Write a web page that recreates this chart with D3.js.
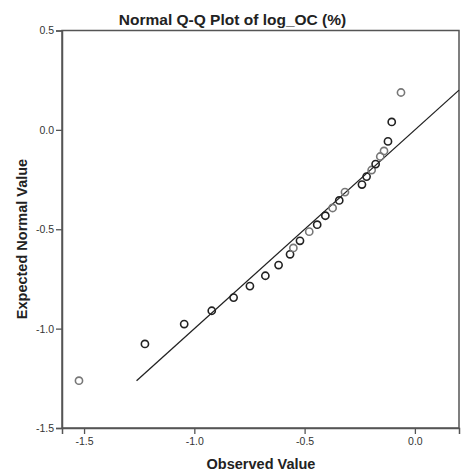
<!DOCTYPE html>
<html>
<head>
<meta charset="utf-8">
<script src="https://cdn.jsdelivr.net/npm/d3@7"></script>
<style>
html,body{margin:0;padding:0;background:#fff;}
svg{display:block;font-family:"Liberation Sans",Arial,sans-serif;}
</style>
</head>
<body>
<svg id="chart" width="476" height="475"></svg>
<script>
const title = "Normal Q-Q Plot of log_OC (%)";
const xLabel = "Observed Value";
const yLabel = "Expected Normal Value";
const xTicks = [-1.5, -1.0, -0.5, 0.0];
const yTicks = [0.5, 0.0, -0.5, -1.0, -1.5];
const observed = [-1.523,-1.224,-1.046,-0.921,-0.822,-0.748,-0.678,-0.618,-0.566,-0.551,-0.521,-0.479,-0.443,-0.406,-0.373,-0.343,-0.317,-0.240,-0.219,-0.196,-0.178,-0.157,-0.140,-0.122,-0.105,-0.063];
const expected = [-1.262,-1.077,-0.977,-0.910,-0.844,-0.786,-0.734,-0.680,-0.626,-0.594,-0.558,-0.512,-0.477,-0.432,-0.393,-0.355,-0.313,-0.275,-0.235,-0.202,-0.172,-0.134,-0.106,-0.058,0.040,0.188];
const shade = ["g","d","d","d","d","d","d","d","d","g","d","g","d","d","g","d","g","d","d","g","d","g","g","d","d","g"];
const refLine = [-1.262, 0.2];

const svg = d3.select("#chart");
const L = 62, R = 459, T = 30.5, B = 428;
const x = d3.scaleLinear().domain([-1.6, 0.2]).range([L, R]);
const y = d3.scaleLinear().domain([-1.5, 0.5]).range([B, T]);
const fmt = d => d.toFixed(1);

// frame
svg.append("rect").attr("x", L).attr("y", T).attr("width", R - L).attr("height", B - T)
  .attr("fill", "none").attr("stroke", "#555").attr("stroke-width", 1.5);

const yAxis = svg.append("g").attr("transform", `translate(${L},0)`)
  .call(d3.axisLeft(y).tickValues(yTicks).tickFormat(fmt).tickSize(6).tickPadding(2));
const xAxis = svg.append("g").attr("transform", `translate(0,${B})`)
  .call(d3.axisBottom(x).tickValues(xTicks).tickFormat(fmt).tickSize(6).tickPadding(4));
[yAxis, xAxis].forEach(a => {
  a.select(".domain").attr("stroke", "#555").attr("stroke-width", 1.5);
  a.selectAll(".tick line").attr("stroke", "#555").attr("stroke-width", 1.3);
  a.selectAll(".tick text").attr("fill", "#333").style("font-size", "10.5px")
    .style("font-family", "'Liberation Sans',Arial,sans-serif");
});

// reference line
svg.append("line")
  .attr("x1", x(refLine[0])).attr("y1", y(refLine[0]))
  .attr("x2", x(refLine[1])).attr("y2", y(refLine[1]))
  .attr("stroke", "#222").attr("stroke-width", 1.3);

// points
svg.append("g").selectAll("circle").data(observed.map((o, i) => ({o, e: expected[i], s: shade[i]})))
  .join("circle")
  .attr("cx", d => x(d.o)).attr("cy", d => y(d.e)).attr("r", 3.6)
  .attr("fill", "none")
  .attr("stroke", d => d.s === "g" ? "#777" : "#222")
  .attr("stroke-width", 1.6);

// titles
svg.append("text").attr("x", 232.5).attr("y", 24.5).attr("text-anchor", "middle")
  .style("font-size", "15.5px").style("font-weight", "bold").attr("fill", "#222").text(title);
svg.append("text").attr("x", 261).attr("y", 469).attr("text-anchor", "middle")
  .style("font-size", "14.5px").style("font-weight", "bold").attr("fill", "#222").text(xLabel);
svg.append("text").attr("transform", "translate(27,239) rotate(-90)").attr("text-anchor", "middle")
  .style("font-size", "14.5px").style("font-weight", "bold").attr("fill", "#222").text(yLabel);
</script>
</body>
</html>
